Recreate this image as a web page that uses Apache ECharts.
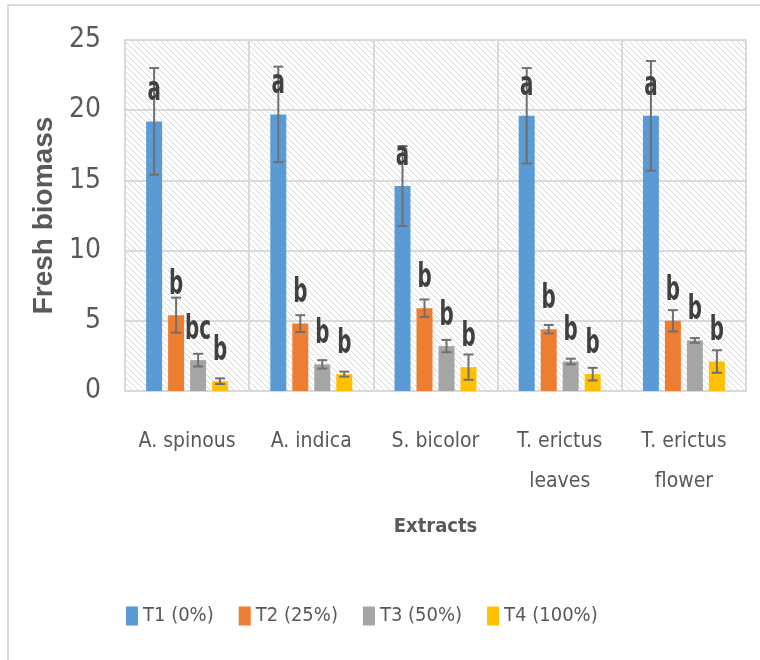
<!DOCTYPE html>
<html>
<head>
<meta charset="utf-8">
<script src="https://cdn.jsdelivr.net/npm/echarts@6/dist/echarts.min.js"></script>
<style>
html,body{margin:0;padding:0;background:#fff;}
#main{width:760px;height:660px;}
</style>
</head>
<body>
<div id="main"></div>
<script>
// ---- data ----
const categories = ['A. spinous', 'A. indica', 'S. bicolor', 'T. erictus\nleaves', 'T. erictus\nflower'];
const seriesNames = ['T1 (0%)', 'T2 (25%)', 'T3 (50%)', 'T4 (100%)'];
const t1 = [19.2, 19.7, 14.6, 19.6, 19.6];
const t2 = [5.4, 4.8, 5.9, 4.4, 5.0];
const t3 = [2.2, 1.9, 3.2, 2.1, 3.6];
const t4 = [0.7, 1.2, 1.7, 1.2, 2.1];
const t1Err = [3.8, 3.4, 2.85, 3.4, 3.9];
const t2Err = [1.25, 0.6, 0.62, 0.3, 0.76];
const t3Err = [0.45, 0.3, 0.44, 0.2, 0.17];
const t4Err = [0.2, 0.18, 0.9, 0.45, 0.8];
const t1Letters = ['a', 'a', 'a', 'a', 'a'];
const t2Letters = ['b', 'b', 'b', 'b', 'b'];
const t3Letters = ['bc', 'b', 'b', 'b', 'b'];
const t4Letters = ['b', 'b', 'b', 'b', 'b'];
const yTicks = [0, 5, 10, 15, 20, 25];

const values = [t1, t2, t3, t4];
const errs = [t1Err, t2Err, t3Err, t4Err];
const letters = [t1Letters, t2Letters, t3Letters, t4Letters];
const colors = ['#5B9BD5', '#ED7D31', '#A5A5A5', '#FFC000'];
const NARROW = "'Liberation Sans Narrow', 'DejaVu Sans Condensed', 'Roboto Condensed', sans-serif";

// hatch pattern
const pc = document.createElement('canvas');
pc.width = 6; pc.height = 6;
const g = pc.getContext('2d');
g.fillStyle = '#ffffff'; g.fillRect(0, 0, 6, 6);
g.strokeStyle = '#d6d6d6'; g.lineWidth = 1;
g.beginPath();
g.moveTo(0, 0); g.lineTo(6, 6);
g.moveTo(-3, 3); g.lineTo(3, 9);
g.moveTo(3, -3); g.lineTo(9, 3);
g.stroke();

const BAR_CAT_GAP = 0.34, BAR_GAP = 0.375;

function makeRender(i) {
  return function (params, api) {
    const c = api.value(0), v = api.value(1), e = api.value(2);
    const band = api.size([1, 0])[0];
    const w = band * (1 - BAR_CAT_GAP) / (4 + 3 * BAR_GAP);
    const off = (i - 1.5) * w * (1 + BAR_GAP);
    const pTop = api.coord([c, v + e]);
    const pBot = api.coord([c, v - e]);
    const pBar = api.coord([c, v]);
    const x = pBar[0] + off;
    const cap = 5;
    const st = { stroke: '#707070', lineWidth: 2 };
    return {
      type: 'group',
      children: [
        { type: 'line', shape: { x1: x, y1: pTop[1], x2: x, y2: pBot[1] }, style: st },
        { type: 'line', shape: { x1: x - cap, y1: pTop[1], x2: x + cap, y2: pTop[1] }, style: st },
        { type: 'line', shape: { x1: x - cap, y1: pBot[1], x2: x + cap, y2: pBot[1] }, style: st },
        {
          type: 'text', x: x, y: pBar[1] - 30, scaleX: 0.92, scaleY: 1.4,
          style: {
            text: letters[i][params.dataIndex], fill: '#404040',
            font: 'bold 24px ' + NARROW, align: 'center', verticalAlign: 'middle'
          }
        }
      ]
    };
  };
}

const series = [];
for (let i = 0; i < 4; i++) {
  series.push({
    name: seriesNames[i], type: 'bar', data: values[i],
    itemStyle: { color: colors[i] },
    barCategoryGap: (BAR_CAT_GAP * 100) + '%', barGap: (BAR_GAP * 100) + '%',
    z: 2
  });
}
for (let i = 0; i < 4; i++) {
  series.push({
    type: 'custom', name: seriesNames[i] + ' err',
    renderItem: makeRender(i),
    data: values[i].map((v, k) => [k, v, errs[i][k]]),
    z: 5, silent: true
  });
}

const chart = echarts.init(document.getElementById('main'), null, { renderer: 'canvas' });
chart.setOption({
  animation: false,
  backgroundColor: '#ffffff',
  graphic: [{
    type: 'rect', shape: { x: 8, y: 5, width: 800, height: 700 },
    style: { fill: 'none', stroke: '#d9d9d9', lineWidth: 2 }, z: -10
  }],
  grid: {
    left: 125, right: 14, top: 40, bottom: 269, show: true,
    backgroundColor: { image: pc, repeat: 'repeat' },
    borderColor: '#d9d9d9', borderWidth: 2
  },
  legend: {
    data: seriesNames, left: 121, top: 601,
    itemWidth: 12, itemHeight: 19, itemGap: 25,
    icon: 'rect',
    textStyle: { fontFamily: NARROW, fontSize: 20, color: '#595959' }
  },
  xAxis: {
    type: 'category', data: categories,
    name: 'Extracts', nameLocation: 'middle', nameGap: 126,
    nameTextStyle: { fontFamily: NARROW, fontSize: 20, fontWeight: 'bold', color: '#595959' },
    axisLine: { lineStyle: { color: '#d9d9d9', width: 2 } },
    axisTick: { show: false },
    splitLine: { show: true, interval: 0, lineStyle: { color: '#d9d9d9', width: 2 } },
    axisLabel: { interval: 0, margin: 31, fontFamily: NARROW, fontSize: 21, color: '#595959', lineHeight: 40 }
  },
  yAxis: {
    type: 'value', min: yTicks[0], max: yTicks[yTicks.length - 1], interval: yTicks[1] - yTicks[0],
    name: 'Fresh biomass', nameLocation: 'middle', nameGap: 53,
    nameTextStyle: { fontFamily: "'Liberation Sans', Arial, sans-serif", fontSize: 28, fontWeight: 'bold', color: '#595959' },
    axisLine: { show: false }, axisTick: { show: false },
    splitLine: { lineStyle: { color: '#d9d9d9', width: 2 } },
    axisLabel: { margin: 24, fontFamily: NARROW, fontSize: 28, color: '#595959' }
  },
  series: series
});
</script>
</body>
</html>
